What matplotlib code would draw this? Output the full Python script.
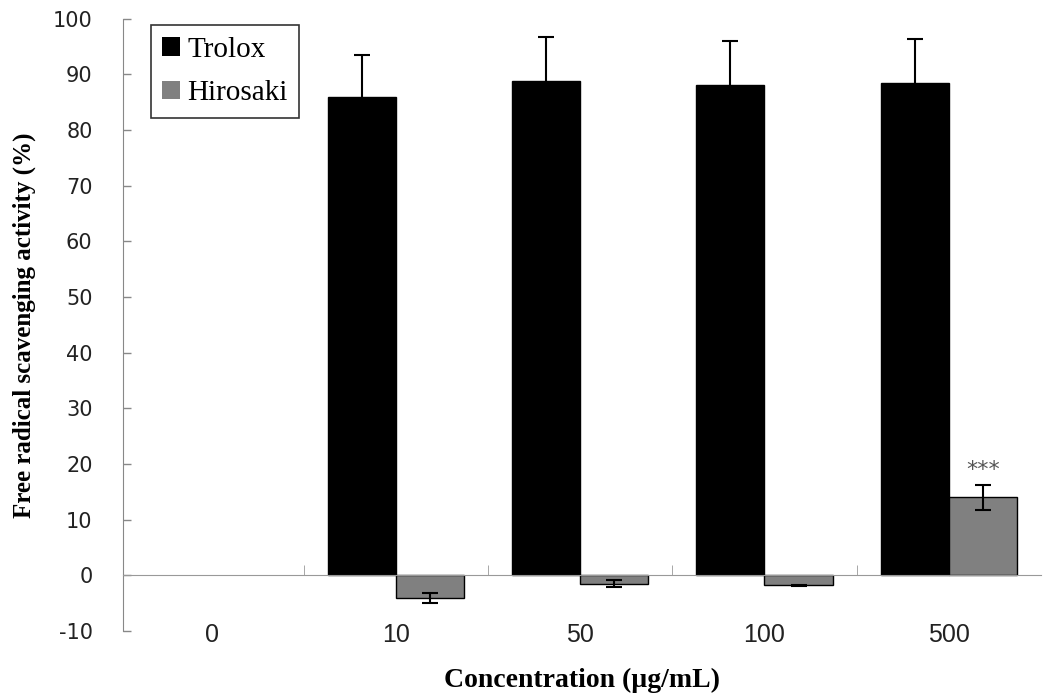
import numpy as np
import matplotlib
matplotlib.use("Agg")
import matplotlib.pyplot as plt

plt.rcParams["axes.unicode_minus"] = False

# concentrations (ug/mL) and measured scavenging activity (%)
concentrations = ["0", "10", "50", "100", "500"]
trolox_mean = [0.0, 86.0, 88.8, 88.1, 88.4]
trolox_err = [0.0, 7.5, 7.9, 7.9, 7.9]
hirosaki_mean = [0.0, -4.0, -1.5, -1.8, 14.0]
hirosaki_err = [0.0, 0.9, 0.6, 0.1, 2.2]
star_labels = ["", "", "", "", "***"]

serif = ["Liberation Serif", "DejaVu Serif"]

fig = plt.figure(figsize=(10.43, 6.98), dpi=100)
ax = fig.add_axes([0.118, 0.096, 0.88, 0.877])

x = np.arange(len(concentrations))
w = 0.37
lw_t = [0 if v == 0 else 1 for v in trolox_mean]
lw_h = [0 if v == 0 else 1 for v in hirosaki_mean]
ax.bar(x - w / 2, trolox_mean, w, color="black", edgecolor="black", linewidth=lw_t, label="Trolox", zorder=2)
ax.bar(x + w / 2, hirosaki_mean, w, color="#808080", edgecolor="black", linewidth=lw_h, label="Hirosaki", zorder=2)

# error bars only where there is a bar
show = np.array(trolox_err) > 0
ax.errorbar((x - w / 2)[show], np.array(trolox_mean)[show], yerr=np.array(trolox_err)[show],
            fmt="none", ecolor="black", elinewidth=1.5, capsize=5.5, capthick=1.5, zorder=3)
show = np.array(hirosaki_err) > 0
ax.errorbar((x + w / 2)[show], np.array(hirosaki_mean)[show], yerr=np.array(hirosaki_err)[show],
            fmt="none", ecolor="black", elinewidth=1.5, capsize=5.5, capthick=1.5, zorder=3)

for i, s in enumerate(star_labels):
    if s:
        ax.text(x[i] + w / 2, hirosaki_mean[i] + hirosaki_err[i] + 1.0, s, ha="center", va="bottom",
                fontsize=16, color="#555555")

ax.set_xlim(-0.48, 4.5)
ax.set_ylim(-10, 100)
ax.set_yticks(np.arange(-10, 101, 10))
ax.tick_params(axis="y", direction="in", length=6, width=1, color="#888888", pad=22, labelsize=15)
for lab in ax.get_yticklabels():
    lab.set_color("#222222")

# x axis line at zero, ticks at category boundaries, labels at the bottom
ax.spines["bottom"].set_position(("data", 0))
ax.spines["bottom"].set_color("#999999")
ax.spines["left"].set_color("#888888")
ax.spines["top"].set_visible(False)
ax.spines["right"].set_visible(False)
ax.set_xticks(x)
ax.set_xticklabels(concentrations)
ax.set_xticks(np.arange(0.5, 4.5, 1), minor=True)
ax.tick_params(axis="x", which="major", length=0, pad=34, labelsize=18)
ax.tick_params(axis="x", which="minor", direction="in", length=7, color="#999999")
for lab in ax.get_xticklabels():
    lab.set_family(["Liberation Sans", "DejaVu Sans"])
    lab.set_color("#222222")

ax.set_ylabel("Free radical scavenging activity (%)", family=serif, fontweight="bold", fontsize=18, labelpad=12)
ax.set_xlabel("Concentration (µg/mL)", family=serif, fontweight="bold", fontsize=20, labelpad=15)

leg = ax.legend(loc="upper left", bbox_to_anchor=(0.03, 0.99), prop={"family": serif, "size": 21},
                frameon=True, fancybox=False, edgecolor="black", handlelength=0.6, handleheight=0.6,
                handletextpad=0.25, borderpad=0.4, labelspacing=0.6, borderaxespad=0)
leg.get_frame().set_linewidth(1.2)

fig.savefig("out.png", dpi=100)
